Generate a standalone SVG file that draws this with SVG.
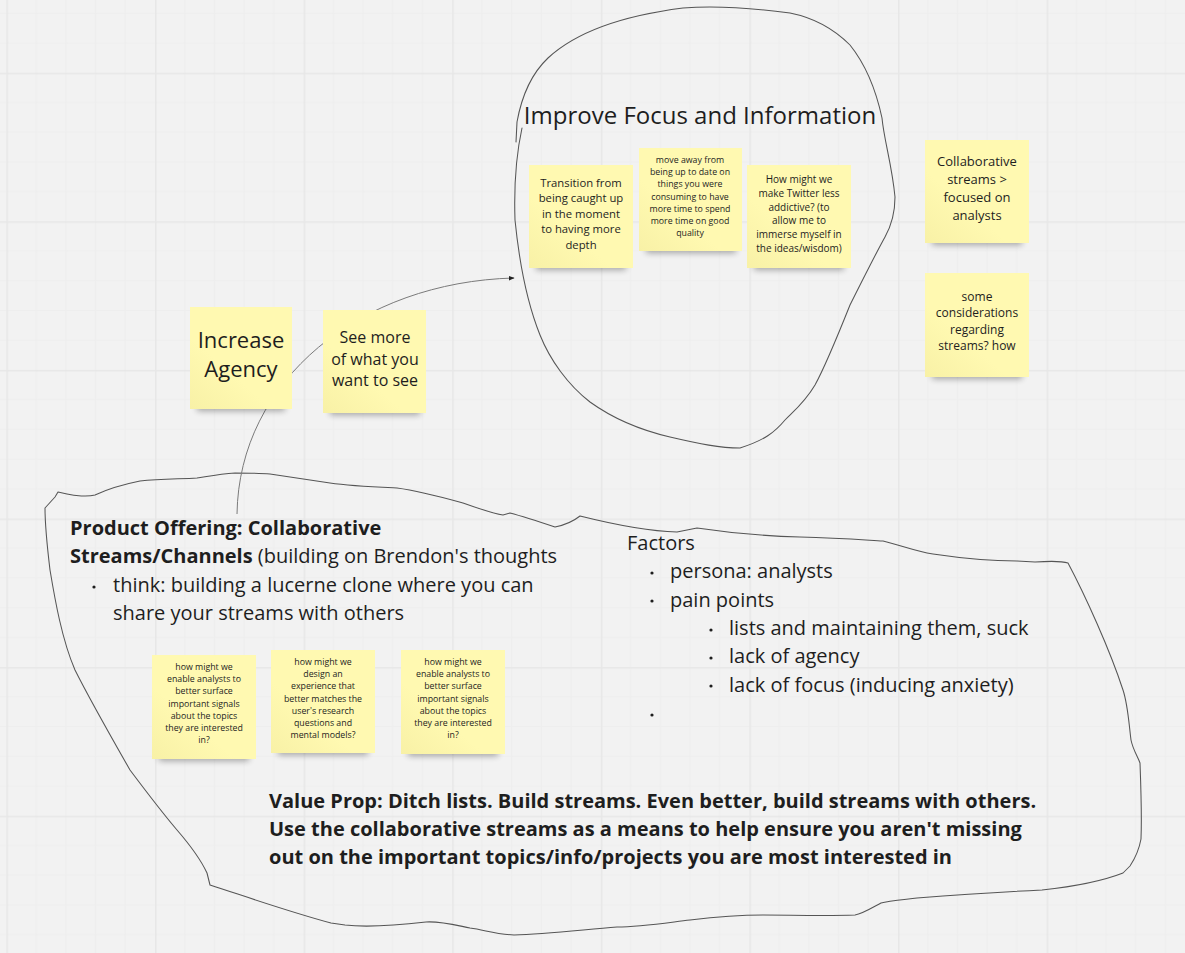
<svg xmlns="http://www.w3.org/2000/svg" width="1185" height="953" viewBox="0 0 1185 953">
<defs>
<pattern id="grid" patternUnits="userSpaceOnUse" x="6.4" y="72.7" width="148.6" height="148.6">
<rect width="148.6" height="148.6" fill="#f2f2f2"/>
<g stroke="#eeeeee" stroke-width="1">
<line x1="29.72" y1="0" x2="29.72" y2="148.6"/><line x1="59.44" y1="0" x2="59.44" y2="148.6"/><line x1="89.16" y1="0" x2="89.16" y2="148.6"/><line x1="118.88" y1="0" x2="118.88" y2="148.6"/>
<line y1="29.72" x1="0" y2="29.72" x2="148.6"/><line y1="59.44" x1="0" y2="59.44" x2="148.6"/><line y1="89.16" x1="0" y2="89.16" x2="148.6"/><line y1="118.88" x1="0" y2="118.88" x2="148.6"/>
</g>
<g stroke="#e7e7e7" stroke-width="1.5">
<line x1="0.8" y1="0" x2="0.8" y2="148.6"/><line x1="0" y1="0.8" x2="148.6" y2="0.8"/>
</g>
</pattern>
<filter id="blur" x="-20%" y="-100%" width="140%" height="300%"><feGaussianBlur stdDeviation="3"/></filter>
<linearGradient id="paper" x1="0" y1="1" x2="0.35" y2="0.6">
<stop offset="0" stop-color="#f8f1a6"/><stop offset="1" stop-color="#fff9b1"/>
</linearGradient>
<marker id="arrow" viewBox="0 0 10 10" refX="9" refY="5" markerWidth="6" markerHeight="6" orient="auto">
<path d="M0,1 L10,5 L0,9 z" fill="#222"/>
</marker>
<style>
.outline{fill:none;stroke:#555;stroke-width:1.05;stroke-linejoin:round;stroke-linecap:round}
.conn{fill:none;stroke:#7a7a7a;stroke-width:1}
.shadow{fill:#000;opacity:0.32;filter:url(#blur)}
.paper{fill:url(#paper)}
.nt{font-family:"Open Sans","Noto Sans",sans-serif;fill:#1e1e1e;text-anchor:middle}
.tx{font-family:"Open Sans","Noto Sans",sans-serif;fill:#1e1e1e;font-size:20px}
.b{font-weight:bold}
</style>
</defs>
<rect width="1185" height="953" fill="url(#grid)"/>

<g id="outlines">
<path class="outline" d="M516,142 L517,122 C521,100 530,75 548,58 C575,33 620,16 683,8 C720,5 760,9 790,13 C815,18 835,30 850,45 C866,65 876,90 882,118 C884,140 892,165 895,197 C895,215 890,228 885,237 C875,255 865,275 850,305 C838,335 826,365 815,385 C805,402 795,410 785,420 C775,432 765,440 740,448 C720,448 700,444 670,437 C640,430 615,420 590,402 C568,385 550,360 540,335 C528,305 520,270 515,220 C514,190 515,160 522,128"/>
<path class="outline" d="M45,508 L55,497 L58,492 L67,494 C75,496 88,497 95,495 C110,488 125,484 140,481 C160,479 180,479 197,478 C210,476 220,474 235,473 C250,473 260,473 270,474 C290,477 310,480 330,483 C350,486 375,487 397,488 C420,491 445,498 463,503 C480,509 495,514 503,515 L510,513 C525,517 540,522 555,527 C565,525 575,520 580,516 C600,521 640,531 677,532 L697,528 C730,533 765,536 800,537 C840,538 865,540 883,541 C900,545 915,551 933,554 C960,558 990,561 1017,561 L1035,562 C1050,561 1062,561 1068,563 C1085,595 1110,650 1123,690 C1128,705 1129,725 1131,740 C1133,750 1138,757 1140,763 C1141,790 1142,815 1141,839 C1139,850 1134,860 1130,866 L1123,873 C1100,882 1070,887 1042,890 C1000,892 955,895 917,898 C900,900 888,901 881,903 C870,909 862,914 855,915 C825,916 790,915 763,915 C740,915 715,917 690,920 C665,923 640,927 617,927 C580,930 545,934 514,935 C495,934 485,930 470,928 C455,925 440,921 426,922 C400,925 370,928 345,925 L331,923 C290,912 250,898 210,885 L207,873 C200,858 190,845 177,830 C160,810 145,790 130,770 C110,735 90,700 75,670 C62,640 55,600 50,570 C47,545 45,525 45,508"/>
</g>

<g id="connectors">
<path class="conn" d="M237,514 C239,380 360,282 514,278" marker-end="url(#arrow)"/>
</g>

<g id="title-improve">
<text x="700" y="124" font-family="'Open Sans','Noto Sans',sans-serif" font-size="24" fill="#1e1e1e" text-anchor="middle">Improve Focus and Information</text>
</g>

<g id="note-increase-agency">
<rect class="shadow" x="197" y="397" width="88" height="14"/>
<rect class="paper" x="190" y="307" width="102" height="102"/>
<text class="nt" font-size="22"><tspan x="241" y="348">Increase</tspan><tspan x="241" y="377">Agency</tspan></text>
</g>

<g id="note-see-more">
<rect class="shadow" x="330" y="401" width="90" height="14"/>
<rect class="paper" x="323" y="310" width="103" height="103"/>
<text class="nt" font-size="16"><tspan x="375" y="343">See more</tspan><tspan x="375" y="365">of what you</tspan><tspan x="375" y="386">want to see</tspan></text>
</g>

<g id="note-transition">
<rect class="shadow" x="536" y="256" width="90" height="14"/>
<rect class="paper" x="529" y="165" width="104" height="103"/>
<text class="nt" font-size="11.3"><tspan x="581" y="187">Transition from</tspan><tspan x="581" y="202">being caught up</tspan><tspan x="581" y="218">in the moment</tspan><tspan x="581" y="233">to having more</tspan><tspan x="581" y="249">depth</tspan></text>
</g>

<g id="note-move-away">
<rect class="shadow" x="646" y="239" width="90" height="14"/>
<rect class="paper" x="639" y="148" width="103" height="103"/>
<text class="nt" font-size="8.8"><tspan x="690" y="163">move away from</tspan><tspan x="690" y="175">being up to date on</tspan><tspan x="690" y="187">things you were</tspan><tspan x="690" y="200">consuming to have</tspan><tspan x="690" y="212">more time to spend</tspan><tspan x="690" y="224">more time on good</tspan><tspan x="690" y="236">quality</tspan></text>
</g>

<g id="note-twitter">
<rect class="shadow" x="754" y="256" width="90" height="14"/>
<rect class="paper" x="747" y="165" width="104" height="103"/>
<text class="nt" font-size="10"><tspan x="799" y="183">How might we</tspan><tspan x="799" y="197">make Twitter less</tspan><tspan x="799" y="211">addictive? (to</tspan><tspan x="799" y="224">allow me to</tspan><tspan x="799" y="238">immerse myself in</tspan><tspan x="799" y="252">the ideas/wisdom)</tspan></text>
</g>

<g id="note-collaborative">
<rect class="shadow" x="932" y="231" width="90" height="14"/>
<rect class="paper" x="925" y="140" width="104" height="103"/>
<text class="nt" font-size="13"><tspan x="977" y="166">Collaborative</tspan><tspan x="977" y="184">streams &gt;</tspan><tspan x="977" y="202">focused on</tspan><tspan x="977" y="220">analysts</tspan></text>
</g>

<g id="note-considerations">
<rect class="shadow" x="932" y="365" width="90" height="14"/>
<rect class="paper" x="925" y="273" width="104" height="104"/>
<text class="nt" font-size="12"><tspan x="977" y="301">some</tspan><tspan x="977" y="317">considerations</tspan><tspan x="977" y="334">regarding</tspan><tspan x="977" y="350">streams? how</tspan></text>
</g>

<g id="note-signals-1">
<rect class="shadow" x="159" y="747" width="90" height="14"/>
<rect class="paper" x="152" y="655" width="104" height="104"/>
<text class="nt" font-size="8.8"><tspan x="204" y="670">how might we</tspan><tspan x="204" y="682">enable analysts to</tspan><tspan x="204" y="694">better surface</tspan><tspan x="204" y="707">important signals</tspan><tspan x="204" y="719">about the topics</tspan><tspan x="204" y="731">they are interested</tspan><tspan x="204" y="743">in?</tspan></text>
</g>

<g id="note-design">
<rect class="shadow" x="278" y="741" width="90" height="14"/>
<rect class="paper" x="271" y="650" width="104" height="103"/>
<text class="nt" font-size="8.8"><tspan x="323" y="665">how might we</tspan><tspan x="323" y="677">design an</tspan><tspan x="323" y="689">experience that</tspan><tspan x="323" y="702">better matches the</tspan><tspan x="323" y="714">user's research</tspan><tspan x="323" y="726">questions and</tspan><tspan x="323" y="738">mental models?</tspan></text>
</g>

<g id="note-signals-2">
<rect class="shadow" x="408" y="742" width="90" height="14"/>
<rect class="paper" x="401" y="650" width="104" height="104"/>
<text class="nt" font-size="8.8"><tspan x="453" y="665">how might we</tspan><tspan x="453" y="677">enable analysts to</tspan><tspan x="453" y="689">better surface</tspan><tspan x="453" y="702">important signals</tspan><tspan x="453" y="714">about the topics</tspan><tspan x="453" y="726">they are interested</tspan><tspan x="453" y="738">in?</tspan></text>
</g>

<g id="text-product-offering">
<text class="tx"><tspan class="b" x="70" y="535">Product Offering: Collaborative</tspan><tspan class="b" x="70" y="563">Streams/Channels</tspan><tspan> (building on Brendon's thoughts</tspan></text>
<circle cx="94" cy="587" r="1.6" fill="#1e1e1e"/>
<text class="tx"><tspan x="113" y="592">think: building a lucerne clone where you can</tspan><tspan x="113" y="620">share your streams with others</tspan></text>
</g>

<g id="text-factors">
<text class="tx"><tspan x="627" y="550">Factors</tspan><tspan x="670" y="578">persona: analysts</tspan><tspan x="670" y="607">pain points</tspan><tspan x="729" y="635">lists and maintaining them, suck</tspan><tspan x="729" y="663">lack of agency</tspan><tspan x="729" y="692">lack of focus (inducing anxiety)</tspan></text>
<g fill="#1e1e1e">
<circle cx="652" cy="573" r="1.6"/><circle cx="652" cy="601" r="1.6"/><circle cx="711" cy="630" r="1.6"/><circle cx="711" cy="658" r="1.6"/><circle cx="711" cy="686" r="1.6"/><circle cx="652" cy="715" r="1.6"/>
</g>
</g>

<g id="text-value-prop">
<text class="tx b"><tspan x="269" y="808">Value Prop: Ditch lists. Build streams. Even better, build streams with others.</tspan><tspan x="269" y="836">Use the collaborative streams as a means to help ensure you aren't missing</tspan><tspan x="269" y="864">out on the important topics/info/projects you are most interested in</tspan></text>
</g>
</svg>
